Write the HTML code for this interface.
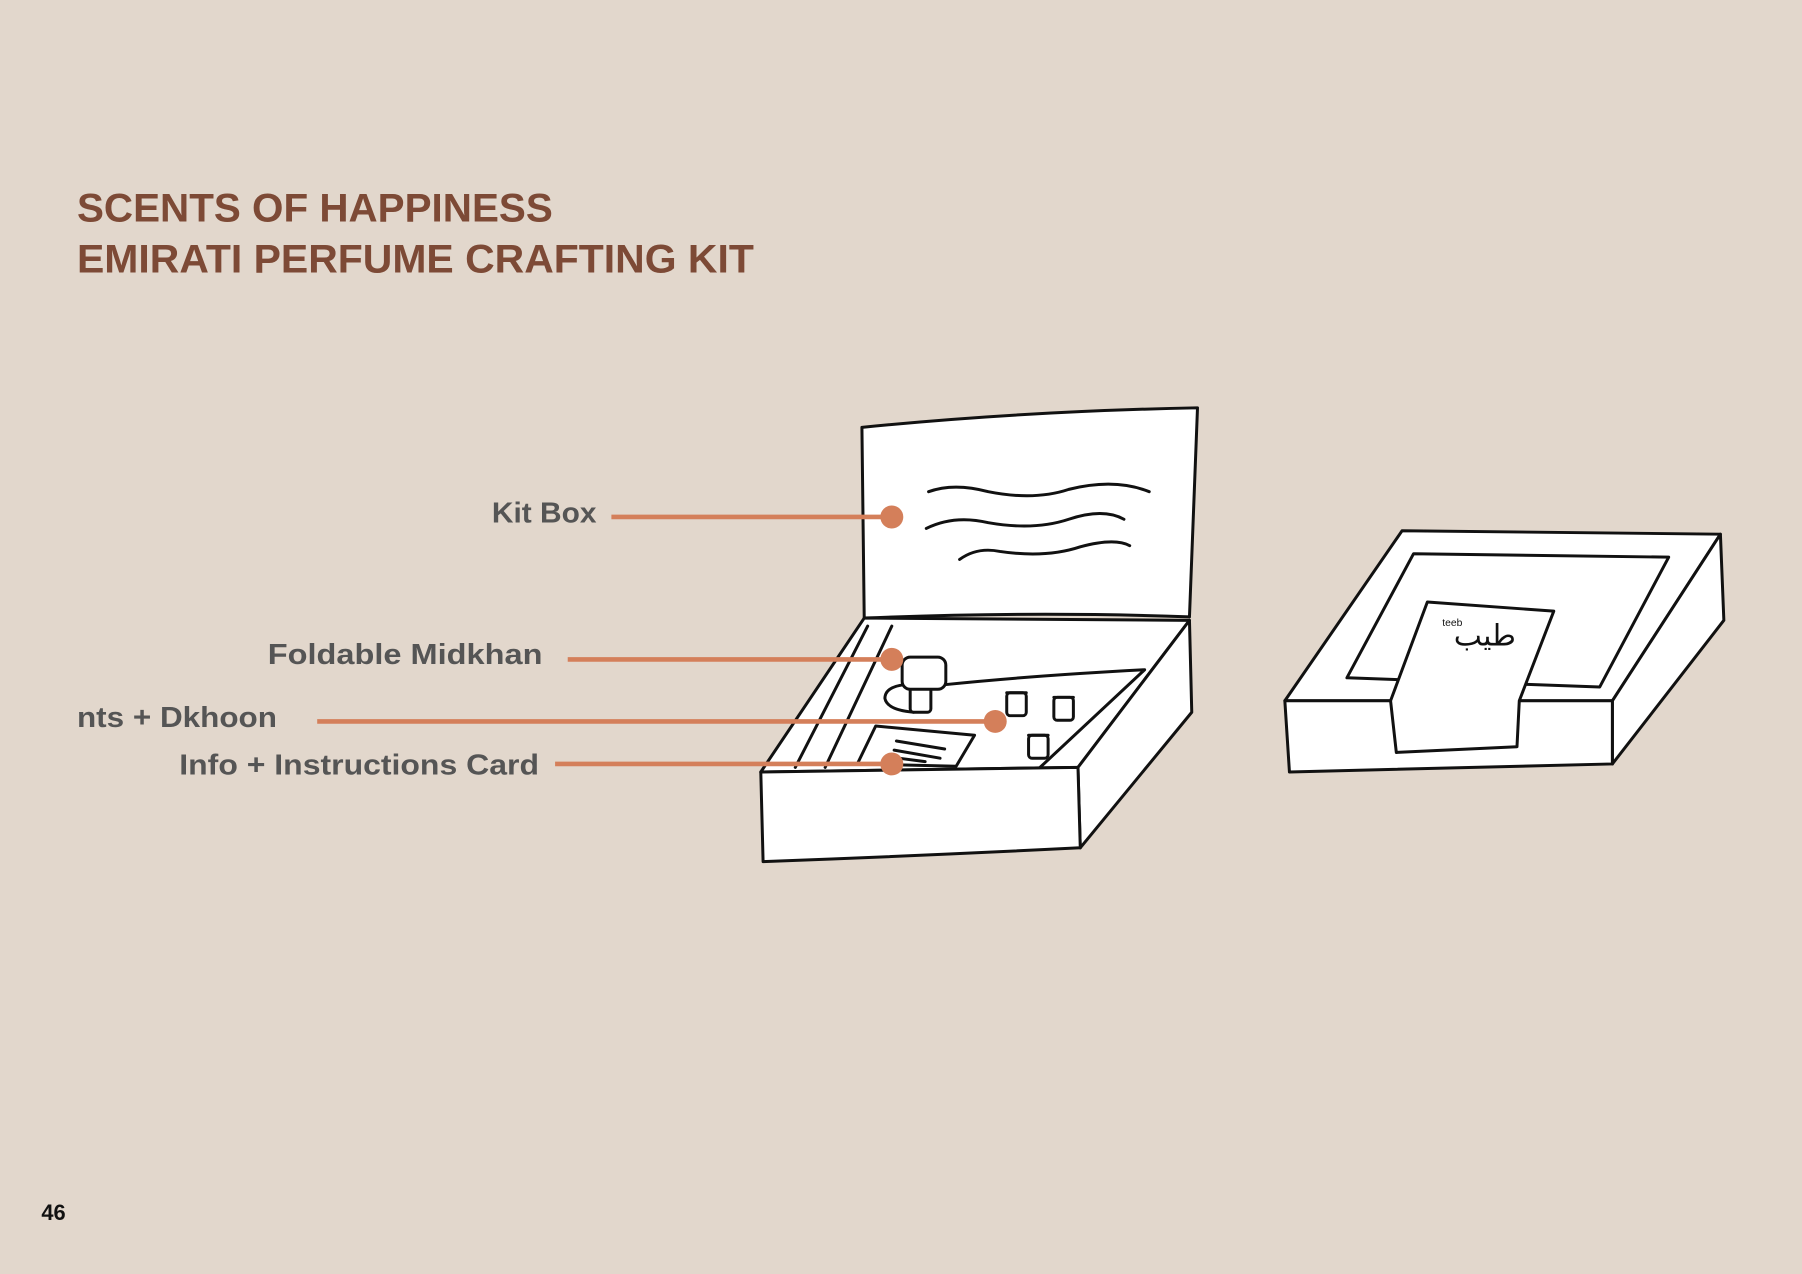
<!DOCTYPE html>
<html><head><meta charset="utf-8"><style>
html,body{margin:0;padding:0;background:#e2d7cc;}
svg{display:block;}
</style></head><body>
<svg width="1802" height="1274" viewBox="0 0 1568 1109" preserveAspectRatio="none" xmlns="http://www.w3.org/2000/svg">
<rect width="1568" height="1109" fill="#e2d7cc"/>
<g font-family="Liberation Sans, sans-serif" font-weight="bold">
<text x="67" y="193" font-size="35" fill="#7d4a36" textLength="414" lengthAdjust="spacingAndGlyphs">SCENTS OF HAPPINESS</text>
<text x="67" y="237" font-size="35" fill="#7d4a36" textLength="589" lengthAdjust="spacingAndGlyphs">EMIRATI PERFUME CRAFTING KIT</text>
<g fill="#555555" font-size="25">
<text x="428" y="455" textLength="91" lengthAdjust="spacingAndGlyphs">Kit Box</text>
<text x="233" y="578" textLength="239" lengthAdjust="spacingAndGlyphs">Foldable Midkhan</text>
<text x="67" y="633" textLength="174" lengthAdjust="spacingAndGlyphs">nts + Dkhoon</text>
<text x="156" y="674" textLength="313" lengthAdjust="spacingAndGlyphs">Info + Instructions Card</text>
</g>
<text x="36" y="1062" font-size="19" fill="#111">46</text>
</g>
<g fill="#fff" stroke="#111" stroke-width="2.6" stroke-linejoin="round" stroke-linecap="round">
<!-- open box -->
<path d="M750,372 Q890,358 1042,355 L1035,537 Q900,532 752,538 Z"/>
<path d="M752,538 L662,672 L938,668 L1035,540 Z"/>
<path d="M1035,540 L1037,620 L940,738 L938,668 Z"/>
<path d="M662,672 L938,668 L940,738 Q800,745 664,750 Z"/>
<path d="M755,545 L692,668 M776,545 L718,668" fill="none"/>
<path d="M822,596 Q900,588 996,583 L905,668" fill="none"/>
<path d="M808,428 Q830,420 860,428 Q900,436 930,426 Q970,416 1000,428" fill="none"/>
<path d="M806,460 Q830,448 860,455 Q900,462 930,452 Q960,442 978,452" fill="none"/>
<path d="M835,487 Q850,476 870,480 Q910,486 940,476 Q970,468 983,475" fill="none"/>
<path d="M762,632 L848,640 L832,667 L746,665 Z"/>
<path d="M780,645 L822,652 M778,653 L818,660 M782,660 L805,663" fill="none"/>
<path d="M787,596 Q770,598 770,608 Q772,618 795,620" fill="none"/>
<rect x="792" y="598" width="18" height="22" rx="3"/>
<rect x="785" y="572" width="38" height="28" rx="7"/>
<rect x="876" y="603" width="17" height="20" rx="3"/>
<rect x="917" y="607" width="17" height="20" rx="3"/>
<rect x="895" y="640" width="17" height="20" rx="3"/>
<path d="M876,603 L893,603 M917,607 L934,607 M895,640 L912,640" fill="none"/>
<!-- closed box -->
<path d="M1220,462 L1497,465 L1403,610 L1118,610 Z"/>
<path d="M1497,465 L1500,540 L1403,665 L1403,610 Z"/>
<path d="M1118,610 L1403,610 L1403,665 L1122,672 Z"/>
<path d="M1230,482 L1452,485 L1392,598 L1172,590 Z"/>
<path d="M1242,524 L1352,532 L1322,610 L1320,650 L1215,655 L1210,610 Z"/>
</g>
<text x="1255" y="545" font-family="Liberation Sans, sans-serif" font-size="9" fill="#111">teeb</text>
<text x="1292" y="562" font-family="DejaVu Sans, sans-serif" font-size="26" fill="#111" text-anchor="middle">طيب</text>
<!-- leaders -->
<g stroke="#d47f5a" stroke-width="4" fill="#d47f5a">
<line x1="532" y1="450" x2="776" y2="450"/><circle cx="776" cy="450" r="10" stroke="none"/>
<line x1="494" y1="574" x2="776" y2="574"/><circle cx="776" cy="574" r="10" stroke="none"/>
<line x1="276" y1="628" x2="866" y2="628"/><circle cx="866" cy="628" r="10" stroke="none"/>
<line x1="483" y1="665" x2="776" y2="665"/><circle cx="776" cy="665" r="10" stroke="none"/>
</g>
</svg>
</body></html>
